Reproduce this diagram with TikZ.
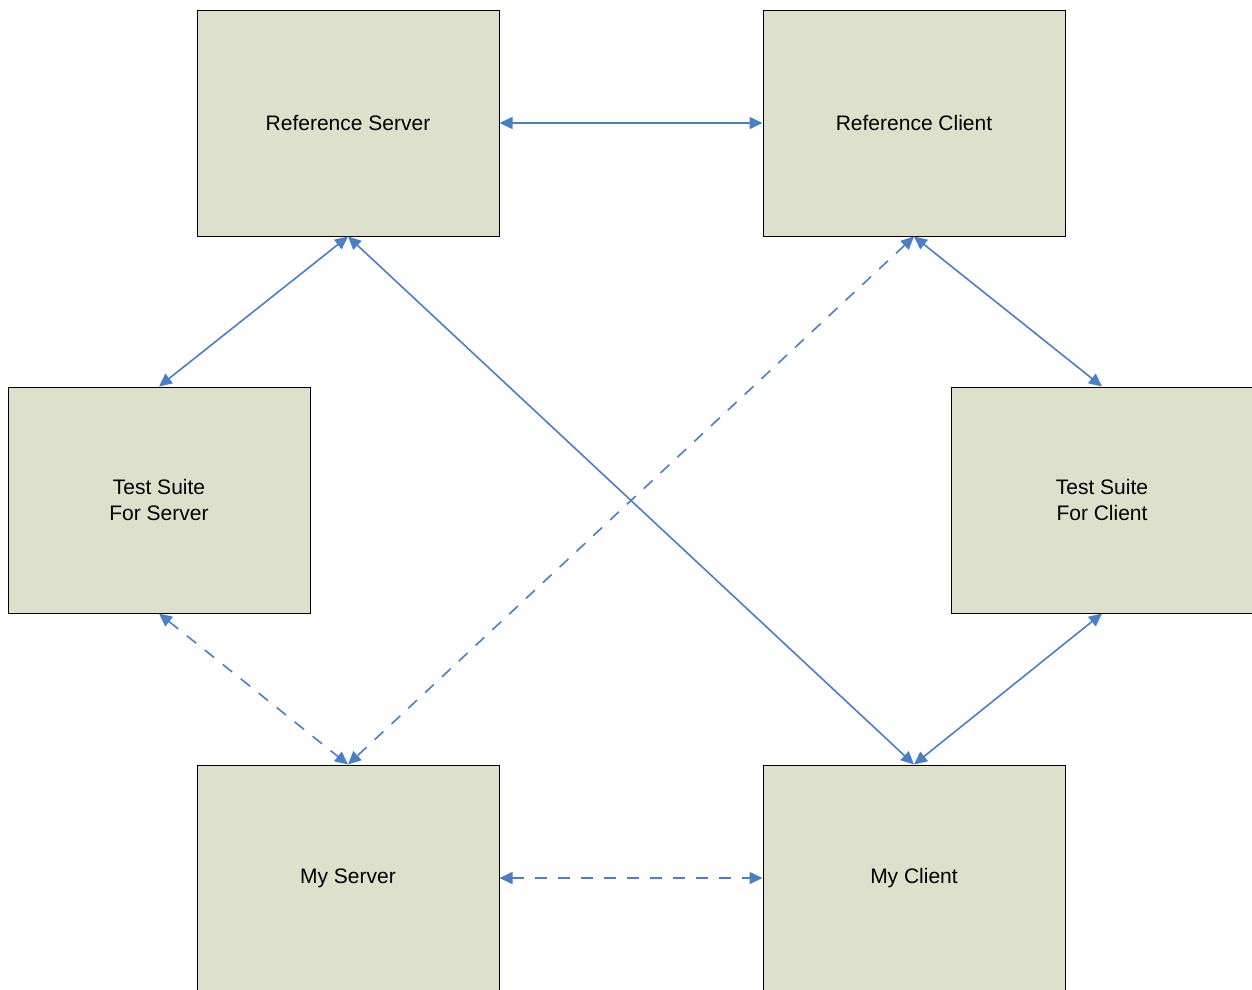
\documentclass[tikz,border=0pt]{standalone}
\usepackage{fontspec}
\setmainfont{Liberation Sans}
\usetikzlibrary{arrows.meta}
\definecolor{boxfill}{HTML}{DDE1CB}
\definecolor{arrowblue}{HTML}{4A7EC6}
\begin{document}
\begin{tikzpicture}[x=1pt,y=1pt,
  box/.style={draw=black,line width=1pt,fill=boxfill,minimum width=302pt,minimum height=226pt,inner sep=0pt,align=center,font=\fontsize{21}{25.5}\selectfont},
  conn/.style={draw=arrowblue,line width=1.6pt,{Triangle[length=13pt,width=12pt]}-{Triangle[length=13pt,width=12pt]}},
  dconn/.style={conn,dash pattern=on 12pt off 11pt}]
\useasboundingbox (0,0) rectangle (1252,-989);
\node[box] (rs) at (348,-123) {Reference Server};
\node[box] (rc) at (914,-123) {Reference Client};
\node[box] (ts) at (159,-500) {Test Suite\\For Server};
\node[box] (tc) at (1102,-500) {Test Suite\\For Client};
\node[box] (ms) at (348,-878) {My Server};
\node[box] (mc) at (914,-878) {My Client};
\draw[conn] (rs.east) -- (rc.west);
\draw[conn] (rs.south) -- (ts.north);
\draw[conn] (rs.south) -- (mc.north);
\draw[dconn] (rc.south) -- (ms.north);
\draw[conn] (rc.south) -- (tc.north);
\draw[dconn] (ts.south) -- (ms.north);
\draw[conn] (tc.south) -- (mc.north);
\draw[dconn] (ms.east) -- (mc.west);
\end{tikzpicture}
\end{document}
